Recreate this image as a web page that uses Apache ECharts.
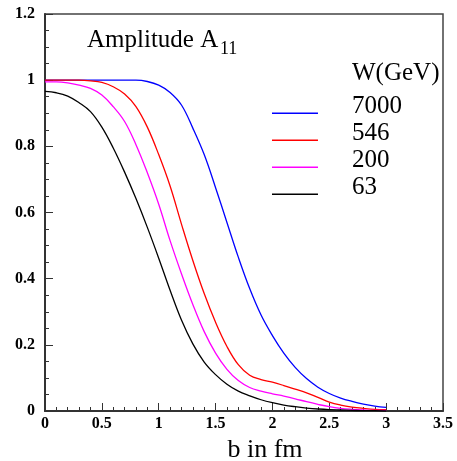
<!DOCTYPE html>
<html>
<head>
<meta charset="utf-8">
<script src="https://cdn.jsdelivr.net/npm/echarts@6/dist/echarts.min.js"></script>
<style>
  html, body { margin: 0; padding: 0; background: #fff; }
  #main { width: 457px; height: 461px; }
</style>
</head>
<body>
<div id="main"></div>
<script>
var myChart = echarts.init(document.getElementById('main'));

var FONT = "'Liberation Serif', 'Times New Roman', serif";

// impact parameter b (fm)
var bVals = [0, 0.1, 0.2, 0.3, 0.4, 0.5, 0.6, 0.7, 0.8, 0.9, 1.0,
    1.1, 1.2, 1.3, 1.4, 1.5, 1.6, 1.7, 1.8, 1.9, 2.0,
    2.1, 2.2, 2.3, 2.4, 2.5, 2.6, 2.7, 2.8, 2.9, 3.0];

var energies = ['7000', '546', '200', '63'];
var colors = ['#0000ff', '#ff0000', '#ff00ff', '#000000'];

// amplitude A11
var amp7000 = [1.0, 1.0, 1.0, 1.0, 1.0, 1.0, 1.0, 1.0, 1.0, 0.996, 0.985,
    0.963, 0.925, 0.855, 0.775, 0.675, 0.57, 0.465, 0.37, 0.29, 0.228,
    0.175, 0.132, 0.098, 0.072, 0.053, 0.039, 0.029, 0.021, 0.015, 0.011];
var amp546 = [1.0, 1.0, 1.0, 1.0, 0.998, 0.993, 0.98, 0.958, 0.92, 0.858, 0.775,
    0.68, 0.565, 0.455, 0.355, 0.268, 0.195, 0.14, 0.108, 0.095, 0.087,
    0.077, 0.066, 0.055, 0.041, 0.027, 0.018, 0.012, 0.008, 0.005, 0.004];
var amp200 = [0.995, 0.995, 0.992, 0.985, 0.975, 0.955, 0.92, 0.875, 0.805, 0.72, 0.625,
    0.515, 0.415, 0.322, 0.24, 0.175, 0.126, 0.092, 0.071, 0.06, 0.052,
    0.045, 0.037, 0.028, 0.02, 0.013, 0.008, 0.005, 0.003, 0.002, 0.002];
var amp63 = [0.966, 0.962, 0.952, 0.932, 0.905, 0.858, 0.795, 0.722, 0.642, 0.555, 0.462,
    0.365, 0.275, 0.203, 0.148, 0.11, 0.081, 0.06, 0.046, 0.034, 0.025,
    0.018, 0.013, 0.009, 0.006, 0.004, 0.003, 0.002, 0.001, 0.001, 0.0];

var ampAll = [amp7000, amp546, amp200, amp63];

var seriesList = [];
for (var i = 0; i < energies.length; i++) {
    var pts = [];
    for (var j = 0; j < bVals.length; j++) {
        pts.push([bVals[j], ampAll[i][j]]);
    }
    seriesList.push({
        name: energies[i],
        type: 'line',
        data: pts,
        symbol: 'none',
        smooth: 0.4,
        lineStyle: { color: colors[i], width: 1.3 },
        itemStyle: { color: colors[i] }
    });
}

option = {
    backgroundColor: '#fff',
    animation: false,
    grid: {
        left: 45,
        right: 14,
        top: 14,
        bottom: 50,
        outerBoundsMode: 'none',
        show: true,
        borderColor: '#444',
        borderWidth: 1.5
    },
    legend: {
        orient: 'vertical',
        left: 272,
        top: 92.5,
        padding: 0,
        itemGap: 0,
        itemWidth: 46,
        itemHeight: 21,
        // short line drawn under the label's middle
        icon: 'path://M0,0 L0.01,0 L0.01,0.01 Z M0,17 L46,17 L46,18.5 L0,18.5 Z M0,21 L0.01,21 L0.01,21.01 Z',
        data: energies,
        textStyle: {
            fontFamily: FONT,
            fontSize: 25,
            color: '#000',
            lineHeight: 27,
            padding: [0, 0, 0, 29]
        }
    },
    graphic: [{
        type: 'text',
        style: { x: 87, y: 40, text: 'Amplitude A', font: '25px ' + FONT, fill: '#000', verticalAlign: 'middle' }
    }, {
        type: 'text',
        style: { x: 220, y: 49, text: '11', font: '18px ' + FONT, fill: '#000', verticalAlign: 'middle' }
    }, {
        type: 'text',
        style: { x: 352, y: 73, text: 'W(GeV)', font: '25px ' + FONT, fill: '#000', verticalAlign: 'middle' }
    }],
    xAxis: {
        type: 'value',
        min: 0,
        max: 3.5,
        interval: 0.5,
        name: 'b in fm',
        nameLocation: 'middle',
        nameGap: 22,
        nameTextStyle: { fontFamily: FONT, fontSize: 26, color: '#000', padding: [0, 0, 0, 42] },
        axisLine: { lineStyle: { color: '#333', width: 2 } },
        axisTick: { inside: true, length: 8, lineStyle: { color: '#333' } },
        minorTick: { show: true, splitNumber: 5, length: 4, lineStyle: { color: '#333' } },
        splitLine: { show: false },
        axisLabel: { fontFamily: FONT, fontWeight: 'bold', fontSize: 16, color: '#000', margin: 5 }
    },
    yAxis: {
        type: 'value',
        min: 0,
        max: 1.2,
        interval: 0.2,
        axisLine: { show: true, lineStyle: { color: '#333', width: 2 } },
        axisTick: { show: true, inside: true, length: 8, lineStyle: { color: '#333' } },
        minorTick: { show: true, splitNumber: 4, length: 4, lineStyle: { color: '#333' } },
        splitLine: { show: false },
        axisLabel: { fontFamily: FONT, fontWeight: 'bold', fontSize: 16, color: '#000', margin: 10 }
    },
    series: seriesList
};
myChart.setOption(option);
</script>
</body>
</html>
